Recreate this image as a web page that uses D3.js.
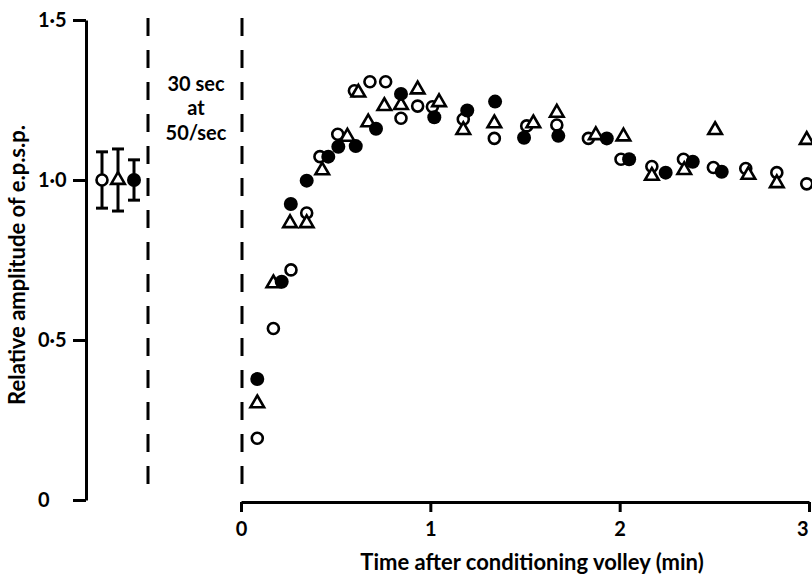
<!DOCTYPE html>
<html>
<head>
<meta charset="utf-8">
<script src="https://cdn.jsdelivr.net/npm/d3@7"></script>
<style>
  body { margin: 0; background: #fff; }
  text { font-family: Lato, "Open Sans", sans-serif; font-weight: bold; fill: #000; }
</style>
</head>
<body>
<div id="chart"></div>
<script>
// data (time in min, relative amplitude)
var openTime = [0.086, 0.171, 0.264, 0.347, 0.417, 0.511, 0.599, 0.681, 0.764, 0.845, 0.933, 1.011, 1.174, 1.338, 1.509, 1.668, 1.835, 2.007, 2.17, 2.337, 2.495, 2.666, 2.83, 2.988];
var openAmp  = [0.193, 0.536, 0.719, 0.897, 1.073, 1.143, 1.279, 1.307, 1.307, 1.193, 1.231, 1.229, 1.19, 1.13, 1.169, 1.172, 1.13, 1.065, 1.042, 1.065, 1.039, 1.036, 1.023, 0.988];

var triTime = [0.086, 0.171, 0.259, 0.347, 0.429, 0.562, 0.62, 0.672, 0.757, 0.845, 0.933, 1.046, 1.174, 1.338, 1.544, 1.668, 1.874, 2.02, 2.17, 2.341, 2.504, 2.68, 2.83, 2.988];
var triAmp  = [0.302, 0.677, 0.865, 0.865, 1.03, 1.135, 1.273, 1.18, 1.231, 1.234, 1.283, 1.243, 1.156, 1.177, 1.177, 1.21, 1.14, 1.136, 1.013, 1.031, 1.156, 1.016, 0.99, 1.125];

var filledTime = [0.086, 0.215, 0.263, 0.347, 0.461, 0.514, 0.606, 0.713, 0.845, 1.021, 1.195, 1.342, 1.495, 1.676, 1.932, 2.05, 2.243, 2.386, 2.539];
var filledAmp  = [0.378, 0.682, 0.925, 0.998, 1.073, 1.104, 1.106, 1.16, 1.269, 1.196, 1.217, 1.245, 1.132, 1.138, 1.13, 1.065, 1.023, 1.057, 1.026];

// control values before conditioning (mean and error)
var controlNames = ["open", "tri", "filled"];
var controlMean = [1.0, 1.0, 1.0];
var controlErr = [0.088, 0.097, 0.063];

var yTicks = [0, 0.5, 1.0, 1.5];
var xTicks = [0, 1, 2, 3];

var svgWidth = 812;
var svgHeight = 576;

var svg = d3.select("#chart")
  .append("svg")
  .attr("width", svgWidth)
  .attr("height", svgHeight);

// scales
var yScale = d3.scaleLinear().domain([0, 1.5]).range([500, 20]);
var xScale = d3.scaleLinear().domain([0, 3]).range([241, 809]);
var ctrlScale = d3.scalePoint().domain(controlNames).range([102, 134]);

// y axis
var leftAxis = d3.axisLeft(yScale)
  .tickValues(yTicks)
  .tickSize(13)
  .tickSizeOuter(0)
  .tickFormat(d => d === 0 ? "0" : d3.format(".1f")(d).replace(".", "\u00b7"));

var yAxisG = svg.append("g")
  .attr("transform", "translate(86,0)")
  .call(leftAxis);

// x axis
var bottomAxis = d3.axisBottom(xScale)
  .tickValues(xTicks)
  .tickSize(10)
  .tickSizeOuter(0)
  .tickFormat(d3.format("d"));

var xAxisG = svg.append("g")
  .attr("transform", "translate(0,502)")
  .call(bottomAxis);

[yAxisG, xAxisG].forEach(function(g) {
  g.select(".domain").attr("stroke", "#000").attr("stroke-width", 3);
  g.selectAll(".tick line").attr("stroke", "#000").attr("stroke-width", 3);
  g.selectAll(".tick text")
    .style("font-family", "Lato, 'Open Sans', sans-serif")
    .style("font-weight", "bold")
    .style("font-size", "20px")
    .attr("fill", "#000");
});

yAxisG.selectAll(".tick text")
  .attr("x", -48)
  .attr("text-anchor", "start");

xAxisG.selectAll(".tick text")
  .attr("y", 20);

// the last x label sits on the edge, keep it inside
xAxisG.selectAll(".tick text").filter(d => d === 3)
  .attr("text-anchor", "end")
  .attr("dx", -1);

// dashed lines marking the tetanus
[148, 242].forEach(function(xp) {
  svg.append("line")
    .attr("x1", xp).attr("x2", xp)
    .attr("y1", 18).attr("y2", 485)
    .attr("stroke", "#000")
    .attr("stroke-width", 3)
    .attr("stroke-dasharray", "18,14");
});

// label between dashes
var cond = svg.append("text")
  .attr("text-anchor", "middle")
  .style("font-size", "20px");
[["30 sec", 91], ["at", 115], ["50/sec", 140]].forEach(function(r) {
  cond.append("tspan").attr("x", 196).attr("y", r[1]).text(r[0]);
});

// control error bars
var ctrl = controlNames.map((n, i) => ({name: n, mean: controlMean[i], err: controlErr[i]}));

var bars = svg.append("g").selectAll("g")
  .data(ctrl)
  .enter()
  .append("g")
  .attr("stroke", "#000")
  .attr("stroke-width", 3);

bars.append("line")
  .attr("x1", d => ctrlScale(d.name)).attr("x2", d => ctrlScale(d.name))
  .attr("y1", d => yScale(d.mean + d.err)).attr("y2", d => yScale(d.mean - d.err));
bars.append("line")
  .attr("x1", d => ctrlScale(d.name) - 6).attr("x2", d => ctrlScale(d.name) + 6)
  .attr("y1", d => yScale(d.mean + d.err)).attr("y2", d => yScale(d.mean + d.err));
bars.append("line")
  .attr("x1", d => ctrlScale(d.name) - 6).attr("x2", d => ctrlScale(d.name) + 6)
  .attr("y1", d => yScale(d.mean - d.err)).attr("y2", d => yScale(d.mean - d.err));

// markers
var triPath = d3.symbol(d3.symbolTriangle, 80)();

function drawOpen(g, xs, ys) {
  g.selectAll("circle.o")
    .data(xs.map((t, i) => [t, ys[i]]))
    .enter()
    .append("circle")
    .attr("cx", d => d[0])
    .attr("cy", d => d[1])
    .attr("r", 5.5)
    .attr("fill", "#fff")
    .attr("stroke", "#000")
    .attr("stroke-width", 2.6);
}

function drawTri(g, xs, ys) {
  g.selectAll("path.t")
    .data(xs.map((t, i) => [t, ys[i]]))
    .enter()
    .append("path")
    .attr("d", triPath)
    .attr("transform", d => `translate(${d[0]},${d[1]})`)
    .attr("fill", "#fff")
    .attr("stroke", "#000")
    .attr("stroke-width", 2.6)
    .attr("stroke-linejoin", "miter");
}

function drawFilled(g, xs, ys) {
  g.selectAll("circle.f")
    .data(xs.map((t, i) => [t, ys[i]]))
    .enter()
    .append("circle")
    .attr("cx", d => d[0])
    .attr("cy", d => d[1])
    .attr("r", 7)
    .attr("fill", "#000");
}

var marks = svg.append("g");

drawOpen(marks.append("g"), openTime.map(xScale), openAmp.map(yScale));
drawTri(marks.append("g"), triTime.map(xScale), triAmp.map(yScale));
drawFilled(marks.append("g"), filledTime.map(xScale), filledAmp.map(yScale));

// controls
drawOpen(marks.append("g"), [ctrlScale("open")], [yScale(controlMean[0])]);
drawTri(marks.append("g"), [ctrlScale("tri")], [yScale(controlMean[1])]);
drawFilled(marks.append("g"), [ctrlScale("filled")], [yScale(controlMean[2])]);

// axis labels
svg.append("text")
  .attr("transform", "translate(25,265) rotate(-90)")
  .attr("text-anchor", "middle")
  .style("font-size", "22px")
  .text("Relative amplitude of e.p.s.p.");

svg.append("text")
  .attr("x", 532)
  .attr("y", 570)
  .attr("text-anchor", "middle")
  .style("font-size", "22px")
  .text("Time after conditioning volley (min)");
</script>
</body>
</html>
